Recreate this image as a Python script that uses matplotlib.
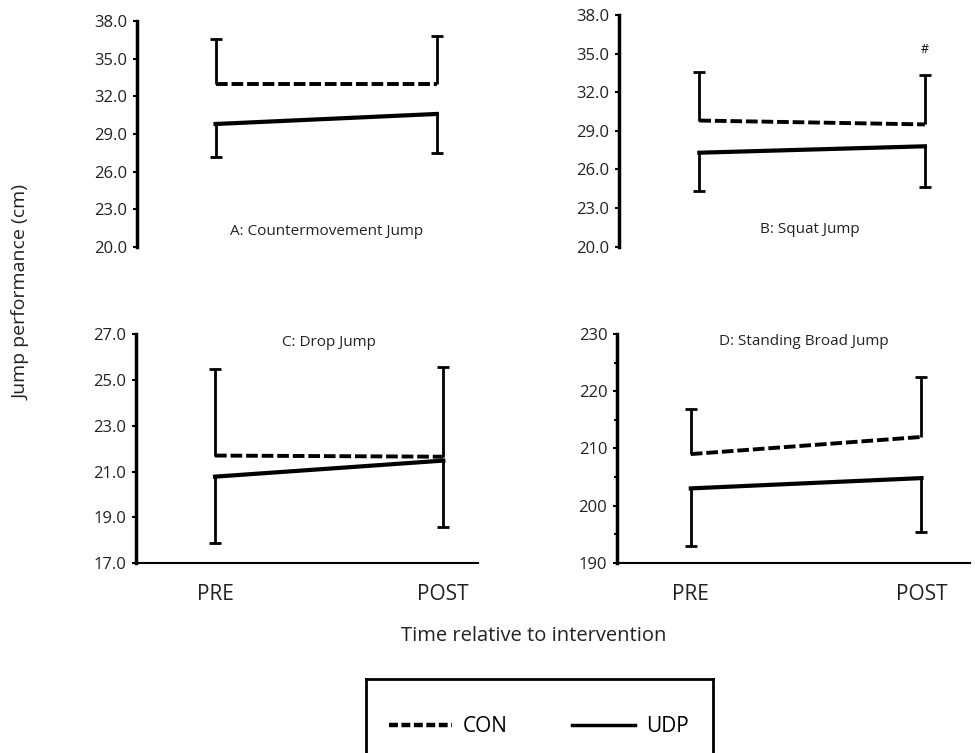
import numpy as np
import matplotlib
matplotlib.use('Agg')
import matplotlib.pyplot as plt
from matplotlib.lines import Line2D
from matplotlib.ticker import FormatStrFormatter, MultipleLocator

plt.rcParams['font.family'] = ['Open Sans', 'DejaVu Sans']

# time points
times = ['PRE', 'POST']

# A: countermovement jump (cm)
cmj_con = [33.0, 33.0]
cmj_con_sd = [3.6, 3.8]
cmj_udp = [29.8, 30.6]
cmj_udp_sd = [2.65, 3.1]

# B: squat jump (cm)
sj_con = [29.8, 29.5]
sj_con_sd = [3.75, 3.8]
sj_udp = [27.3, 27.8]
sj_udp_sd = [3.0, 3.2]

# C: drop jump (cm)
dj_con = [21.7, 21.65]
dj_con_sd = [3.77, 3.9]
dj_udp = [20.78, 21.48]
dj_udp_sd = [2.91, 2.91]

# D: standing broad jump (cm)
sbj_con = [209.0, 212.0]
sbj_con_sd = [7.9, 10.5]
sbj_udp = [203.0, 204.8]
sbj_udp_sd = [10.0, 9.4]

panels = [
    dict(title='A: Countermovement Jump', con=cmj_con, con_sd=cmj_con_sd, udp=cmj_udp, udp_sd=cmj_udp_sd,
         ylim=(20, 38), step=3, fmt='%.1f', pos=[0.1405, 0.672, 0.353, 0.300], xlim=(-0.355, 1.2),
         title_xy=(0.5, 21.2), bottom=False),
    dict(title='B: Squat Jump', con=sj_con, con_sd=sj_con_sd, udp=sj_udp, udp_sd=sj_udp_sd,
         ylim=(20, 38), step=3, fmt='%.1f', pos=[0.6349, 0.6724, 0.36, 0.3077], xlim=(-0.356, 1.2),
         title_xy=(0.49, 21.3), bottom=False),
    dict(title='C: Drop Jump', con=dj_con, con_sd=dj_con_sd, udp=dj_udp, udp_sd=dj_udp_sd,
         ylim=(17, 27), step=2, fmt='%.1f', pos=[0.1395, 0.2519, 0.351, 0.3045], xlim=(-0.346, 1.153),
         title_xy=(0.5, 26.65), bottom=True),
    dict(title='D: Standing Broad Jump', con=sbj_con, con_sd=sbj_con_sd, udp=sbj_udp, udp_sd=sbj_udp_sd,
         ylim=(190, 230), step=10, fmt='%d', pos=[0.6328, 0.2527, 0.362, 0.3037], xlim=(-0.32, 1.21),
         title_xy=(0.49, 228.65), bottom=True),
]

fig = plt.figure(figsize=(9.75, 7.53), dpi=100)
x = np.arange(len(times))
con_style = (0, (3.0, 1.0))

for i, p in enumerate(panels):
    ax = fig.add_axes(p['pos'])
    con = np.array(p['con'])
    udp = np.array(p['udp'])
    # one-sided error bars: CON up, UDP down
    ax.vlines(x, con, con + np.array(p['con_sd']), color='black', lw=2)
    ax.plot(x, con + np.array(p['con_sd']), ls='none', marker='_', ms=8, mew=2, color='black')
    ax.vlines(x, udp - np.array(p['udp_sd']), udp, color='black', lw=2)
    ax.plot(x, udp - np.array(p['udp_sd']), ls='none', marker='_', ms=8, mew=2, color='black')
    ax.plot(x, con, color='black', lw=2.8, ls=con_style, solid_capstyle='butt')
    ax.plot(x, udp, color='black', lw=3)

    ax.set_ylim(*p['ylim'])
    ax.set_xlim(*p['xlim'])
    ax.set_yticks(np.arange(p['ylim'][0], p['ylim'][1] + 0.1, p['step']))
    ax.yaxis.set_major_formatter(FormatStrFormatter(p['fmt']))
    ax.tick_params(axis='y', direction='out', length=3, width=1.5, pad=4, labelsize=12,
                   colors='black', labelcolor='#222222')
    for s in ['top', 'right']:
        ax.spines[s].set_visible(False)
    ax.spines['left'].set_linewidth(2.5)
    if p['bottom']:
        ax.spines['bottom'].set_linewidth(1.5)
        ax.set_xticks(x)
        ax.set_xticklabels(times, fontsize=15, color='#222222')
        ax.tick_params(axis='x', length=0, pad=15)
    else:
        ax.spines['bottom'].set_visible(False)
        ax.set_xticks([])
    if i == 3:
        ax.yaxis.set_minor_locator(MultipleLocator(5))
        ax.tick_params(axis='y', which='minor', direction='out', length=2, width=1.5)
    ax.text(p['title_xy'][0], p['title_xy'][1], p['title'], ha='center', va='center',
            fontsize=11, color='#222222')
    if i == 1:
        ax.text(1, 35.35, '#', ha='center', va='center', fontsize=9)

fig.text(22 / 975, 1 - 293 / 753, 'Jump performance (cm)', rotation=90, ha='center', va='center',
         fontsize=14, color='#222222')
fig.text(534 / 975, 1 - 636 / 753, 'Time relative to intervention', ha='center', va='center',
         fontsize=14.5, color='#222222')

# legend box running off the bottom edge
lax = fig.add_axes([366 / 975, -0.03, 347 / 975, 1 - 679 / 753 + 0.03])
lax.set_xticks([])
lax.set_yticks([])
for s in lax.spines.values():
    s.set_linewidth(2)
handles = [Line2D([0], [0], color='black', lw=3.2, ls=(0, (2.0, 0.8))),
           Line2D([0], [0], color='black', lw=2.5)]
fig.legend(handles, ['CON', 'UDP'], loc='center', bbox_to_anchor=(539 / 975, 1 - 727 / 753),
           ncol=2, frameon=False, fontsize=15, handlelength=3.0, handletextpad=0.53, columnspacing=3.1)

fig.savefig('out.png', dpi=100)
